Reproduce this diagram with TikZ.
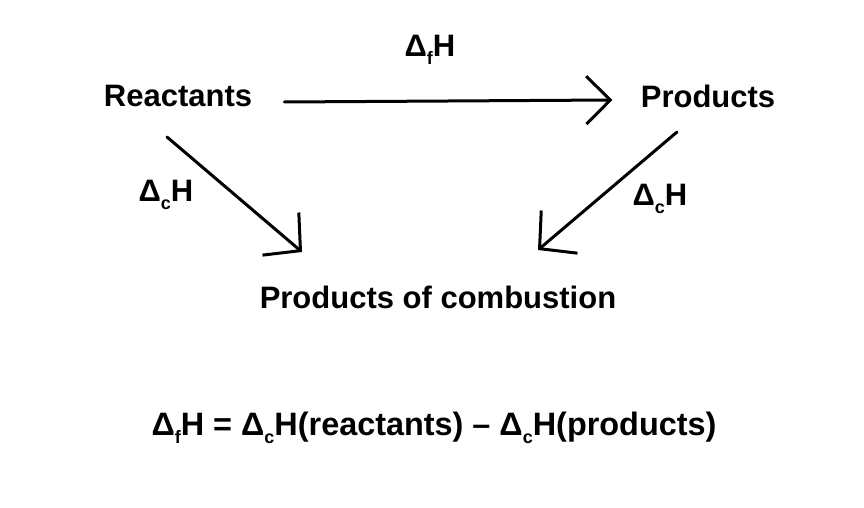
\documentclass[tikz,border=0pt]{standalone}
\usepackage{fontspec}
\setmainfont{Liberation Sans}
\usetikzlibrary{arrows.meta, positioning}

\newcommand{\lowsub}[1]{\raisebox{-0.45ex}{\fontsize{9}{10}\selectfont #1}}

\begin{document}
\begin{tikzpicture}[
  x=0.5pt, y=-0.5pt,
  txt/.style={font=\fontsize{15.5}{18}\selectfont\bfseries, inner sep=0pt},
  eqn/.style={font=\fontsize{16.2}{19}\selectfont\bfseries, inner sep=0pt},
  edge/.style={-{Straight Barb[length=12pt, width=24pt]}, line width=1.5pt, line cap=round, line join=round},
  slant/.style={edge, -{Straight Barb[length=13pt, width=28pt]}}
]
\useasboundingbox (0,0) rectangle (864,508);
\node[txt] (react) at (178,96) {Reactants};
\node[txt] (prod) at (708,96) {Products};
\node[txt] (comb) at (438,297) {Products of combustion};
\node[txt] (dfH) at (430,50) {Δ\lowsub{f}H};
\node[txt] (dcHl) at (166,195) {Δ\lowsub{c}H};
\node[txt] (dcHr) at (660,199) {Δ\lowsub{c}H};
\node[eqn] (eq) at (434,428) {Δ\lowsub{f}H = Δ\lowsub{c}H(reactants) – Δ\lowsub{c}H(products)};
% free ends of the hand-drawn arrows
\coordinate (lstart) at (167,137);
\coordinate (lend) at (302,252);
\coordinate (rstart) at (677,132);
\coordinate (rend) at (538,250);
\draw[edge] (react.east) ++(32,6) -- ([xshift=-14pt, yshift=-2pt]prod.west);
\draw[slant] (lstart) -- (lend);
\draw[slant] (rstart) -- (rend);
\end{tikzpicture}
\end{document}
